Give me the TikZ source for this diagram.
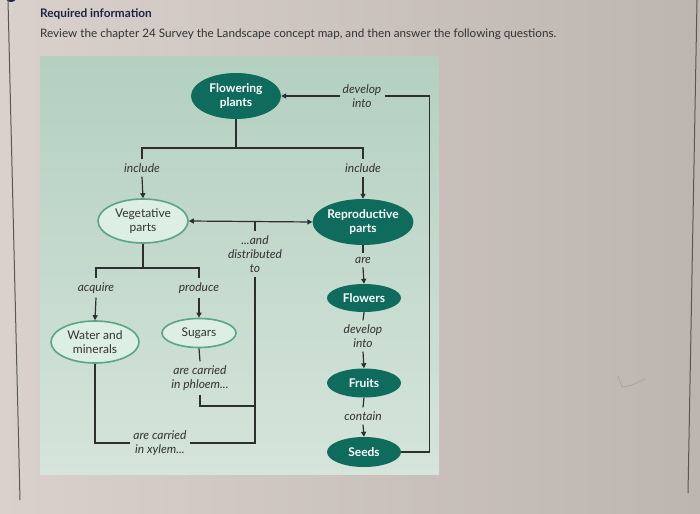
\documentclass[tikz,border=0pt]{standalone}
\usepackage{fontspec}
\setmainfont{Lato}
\usetikzlibrary{shapes.geometric,arrows.meta}
\definecolor{pageleft}{HTML}{DAD1CC}
\definecolor{pageright}{HTML}{BDB5B0}
\definecolor{paneltop}{HTML}{B3D0C0}
\definecolor{panelbottom}{HTML}{D6E4DB}
\definecolor{nodeteal}{HTML}{0F6B5C}
\definecolor{nodelight}{HTML}{DDEEE4}
\definecolor{nodeedge}{HTML}{5BA486}
\definecolor{linkdark}{HTML}{2E2E2E}
\definecolor{textdark}{HTML}{333333}
\definecolor{headnavy}{HTML}{1F2444}
\definecolor{bordergray}{HTML}{5A5652}
\begin{document}
\begin{tikzpicture}[
  x=1pt, y=-1pt,
  darknode/.style={ellipse, fill=nodeteal, text=white, font=\fontsize{12}{14}\selectfont\bfseries, align=center, inner sep=0pt},
  lightnode/.style={ellipse, draw=nodeedge, line width=1.6pt, fill=nodelight, text=textdark, font=\fontsize{12}{14}\selectfont, align=center, inner sep=0pt},
  linklabel/.style={font=\fontsize{12}{14}\selectfont\itshape, text=textdark, align=center, inner xsep=3pt, inner ysep=4pt},
  link/.style={draw=linkdark, line width=1.2pt},
  linkarrow/.style={link, -{Triangle[length=5pt,width=5pt]}}
]
\useasboundingbox (0,0) rectangle (700,513);

% Page and panel
\shade[left color=pageleft, right color=pageright] (0,0) rectangle (700,513);
\fill[headnavy] (11,-4) circle (6);
\draw[bordergray, line width=1pt] (8,0) -- (20,500);
\draw[bordergray, line width=1pt] (697,0) -- (688,493);
\shade[top color=paneltop, bottom color=panelbottom] (40,57) rectangle (439,474);
\draw[gray!70, line width=0.8pt, line cap=round] (618,376) -- (622,387) .. controls (630,386) .. (645,379);

% Heading
\node[anchor=west, inner sep=0pt, text=headnavy, font=\fontsize{11.8}{13}\selectfont\bfseries] (heading) at (40,14) {Required information};
\node[anchor=west, inner sep=0pt, text=textdark, font=\fontsize{11.7}{13}\selectfont] (intro) at (40,34) {Review the chapter 24 Survey the Landscape concept map, and then answer the following questions.};

% Concept nodes
\node[darknode, minimum width=90pt, minimum height=46pt] (flowering) at (236,96) {Flowering\\plants};
\node[lightnode, minimum width=90pt, minimum height=44pt] (vegetative) at (143,221) {Vegetative\\parts};
\node[darknode, minimum width=88pt, minimum height=46pt] (reproductive) at (363,222) {Reproductive\\parts};
\node[lightnode, minimum width=88pt, minimum height=42pt] (water) at (95,342) {Water and\\minerals};
\node[lightnode, minimum width=74pt, minimum height=29pt] (sugars) at (199,333) {Sugars};
\node[darknode, minimum width=74pt, minimum height=28pt] (flowers) at (364,298) {Flowers};
\node[darknode, minimum width=74pt, minimum height=29pt] (fruits) at (364,383) {Fruits};
\node[darknode, minimum width=74pt, minimum height=30pt] (seeds) at (364,452) {Seeds};

% Link labels
\node[linklabel] (developtop) at (362,96) {develop\\into};
\node[linklabel] (includeleft) at (142,168) {include};
\node[linklabel] (includeright) at (363,168) {include};
\node[linklabel] (distributed) at (255,254) {...and\\distributed\\to};
\node[linklabel] (acquire) at (96,288) {acquire};
\node[linklabel] (produce) at (199,288) {produce};
\node[linklabel] (phloem) at (200,378) {are carried\\in phloem...};
\node[linklabel] (xylem) at (160,443) {are carried\\in xylem...};
\node[linklabel] (are) at (363,260) {are};
\node[linklabel] (developright) at (363,336) {develop\\into};
\node[linklabel] (contain) at (363,416) {contain};

% Bars and corners
\coordinate (topbar) at (0,148);
\coordinate (vegbar) at (0,268);
\coordinate (midtick) at (255,222);
\coordinate (phloembar) at (255,406);

% Links from flowering plants
\draw[link] (flowering.south) -- (flowering.south |- topbar);
\draw[link] (includeleft.north) -- (includeleft.north |- topbar) -- (includeright.north |- topbar) -- (includeright.north);
\draw[linkarrow] (includeleft.south) -- (vegetative.north);
\draw[linkarrow] (includeright.south) -- (reproductive.north);

% Vegetative side
\draw[link, {Triangle[length=5pt,width=5pt]}-{Triangle[length=5pt,width=5pt]}] (vegetative.east) -- (reproductive.west);
\draw[link] (midtick) -- (distributed.north);
\draw[link] (vegetative.south) -- (vegetative.south |- vegbar);
\draw[link] (acquire.north) -- (acquire.north |- vegbar) -- (produce.north |- vegbar) -- (produce.north);
\draw[linkarrow] (acquire.south) -- (water.north);
\draw[linkarrow] (produce.south) -- (sugars.north);
\draw[link] (sugars.south) -- (phloem.north);
\draw[link] (phloem.south) |- (phloembar);
\draw[link] (distributed.south) |- (xylem.east);
\draw[link] (water.south) |- (xylem.west);

% Reproductive side
\draw[link] (reproductive.south) -- (are.north);
\draw[linkarrow] (are.south) -- (flowers.north);
\draw[link] (flowers.south) -- (developright.north);
\draw[linkarrow] (developright.south) -- (fruits.north);
\draw[link] (fruits.south) -- (contain.north);
\draw[linkarrow] (contain.south) -- (seeds.north);
\draw[link] (seeds.east) -- ++(28,0) |- (developtop.east);
\draw[linkarrow] (developtop.west) -- (flowering.east);

\end{tikzpicture}
\end{document}
